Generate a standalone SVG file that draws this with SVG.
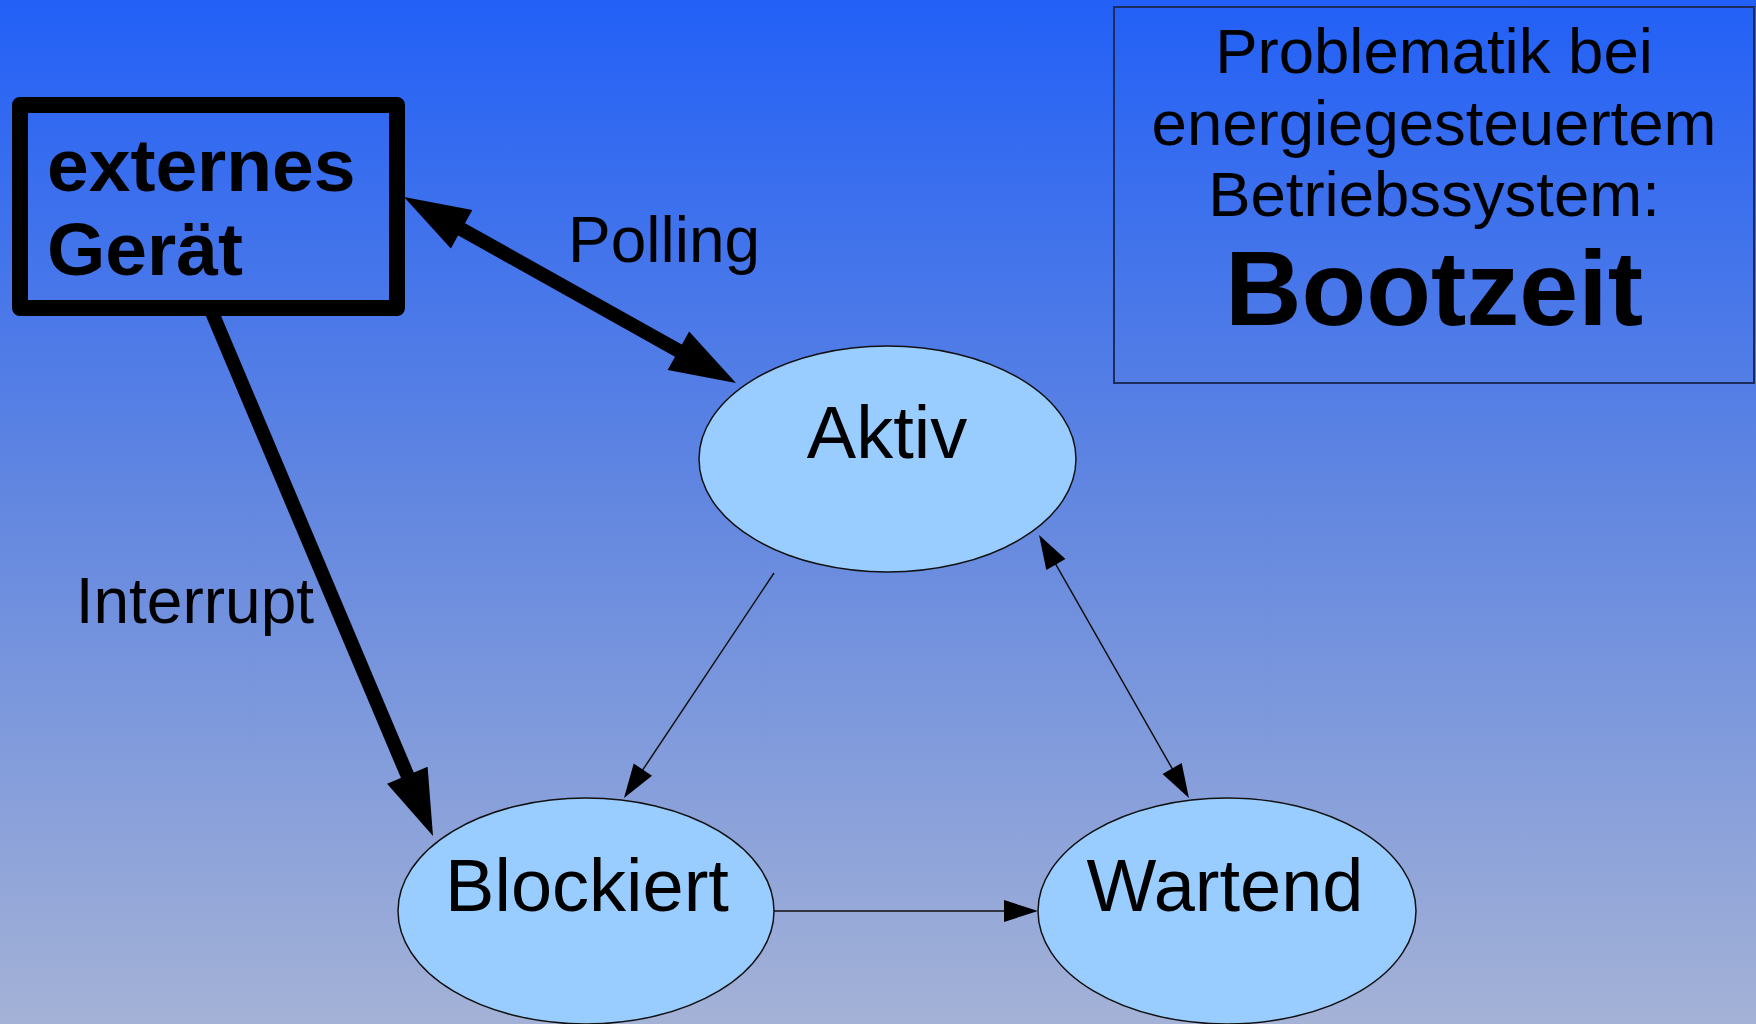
<svg xmlns="http://www.w3.org/2000/svg" width="1756" height="1024" viewBox="0 0 1756 1024">
  <defs>
    <linearGradient id="bg" x1="0" y1="0" x2="0" y2="1">
      <stop offset="0" stop-color="#2260f6"/>
      <stop offset="0.5" stop-color="#6488e0"/>
      <stop offset="1" stop-color="#a4b2d6"/>
    </linearGradient>
    <marker id="thick" markerUnits="userSpaceOnUse" markerWidth="66" markerHeight="44" refX="4" refY="22" orient="auto-start-reverse" overflow="visible">
      <path d="M0,0 L66,22 L0,44 Z" fill="#000"/>
    </marker>
    <marker id="thin" markerUnits="userSpaceOnUse" markerWidth="34" markerHeight="22" refX="3" refY="11" orient="auto-start-reverse" overflow="visible">
      <path d="M0,0 L34,11 L0,22 Z" fill="#000"/>
    </marker>
  </defs>
  <style>
    text { font-family: "Liberation Sans", Arial, sans-serif; fill: #000; }
    .state { fill: #99ccff; stroke: #111; stroke-width: 1.5; }
    .lbl { font-size: 74px; text-anchor: middle; }
    .thickline { stroke: #000; stroke-width: 14; fill: none; }
    .thinline { stroke: #111; stroke-width: 1.5; fill: none; }
    .edgelbl { font-size: 64px; }
    .title { font-size: 63.5px; text-anchor: middle; }
  </style>
  <rect x="0" y="0" width="1756" height="1024" fill="url(#bg)"/>

  <g id="title-box">
    <rect x="1114" y="7" width="640" height="376" fill="none" stroke="#1c2c5c" stroke-width="2"/>
    <text class="title" x="1434" y="73">Problematik bei</text>
    <text class="title" x="1434" y="145">energiegesteuertem</text>
    <text class="title" x="1434" y="216">Betriebssystem:</text>
    <text x="1434" y="325" font-size="106" font-weight="bold" text-anchor="middle">Bootzeit</text>
  </g>

  <g id="connectors">
    <line class="thickline" x1="458.1" y1="227.3" x2="681.9" y2="352.7" marker-start="url(#thick)" marker-end="url(#thick)"/>
    <line class="thickline" x1="210.8" y1="309.6" x2="408.9" y2="778.9" marker-end="url(#thick)"/>
    <line class="thinline" x1="774" y1="573" x2="641.2" y2="772.2" marker-end="url(#thin)"/>
    <line class="thinline" x1="774" y1="911" x2="1007" y2="911" marker-end="url(#thin)"/>
    <line class="thinline" x1="1054.4" y1="561.9" x2="1173.6" y2="771.1" marker-start="url(#thin)" marker-end="url(#thin)"/>
    <text class="edgelbl" x="568" y="262">Polling</text>
    <text class="edgelbl" x="314" y="623" text-anchor="end">Interrupt</text>
  </g>

  <g id="externes-geraet">
    <rect x="20" y="105" width="377" height="203" fill="none" stroke="#000" stroke-width="16" stroke-linejoin="round"/>
    <text x="47" y="191" font-size="75" font-weight="bold">externes</text>
    <text x="47" y="275" font-size="75" font-weight="bold">Gerät</text>
  </g>

  <g id="aktiv">
    <ellipse class="state" cx="887.5" cy="459" rx="188.5" ry="113"/>
    <text class="lbl" x="887" y="458">Aktiv</text>
  </g>

  <g id="blockiert">
    <ellipse class="state" cx="586" cy="911" rx="188" ry="113"/>
    <text class="lbl" x="587" y="911">Blockiert</text>
  </g>

  <g id="wartend">
    <ellipse class="state" cx="1227" cy="911" rx="189" ry="113"/>
    <text class="lbl" x="1225" y="911">Wartend</text>
  </g>
</svg>
